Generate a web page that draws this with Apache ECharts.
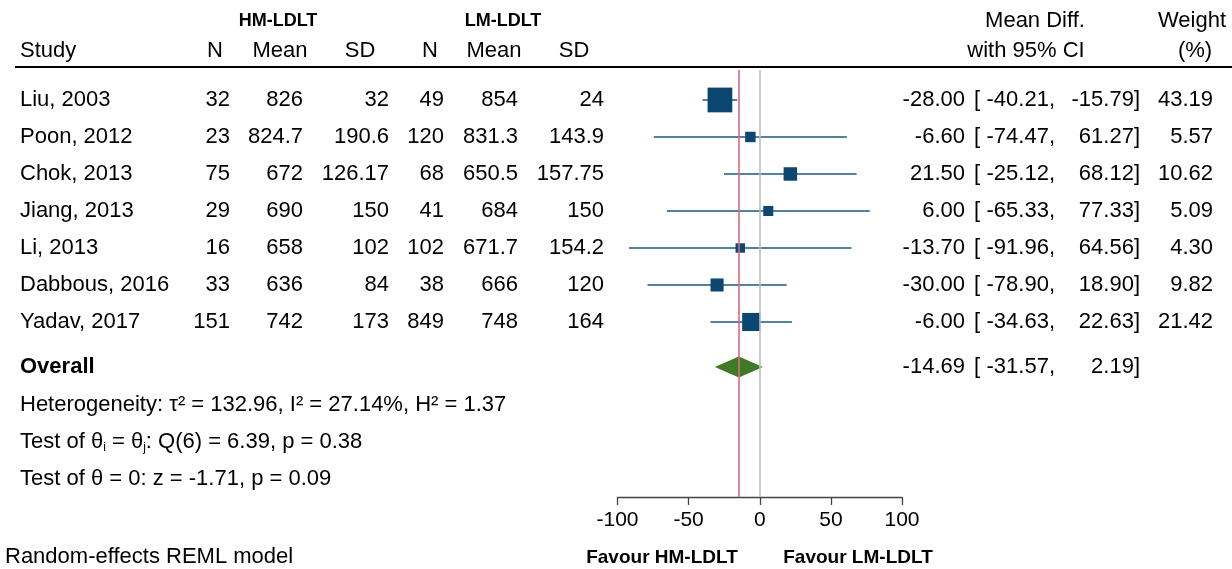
<!DOCTYPE html>
<html>
<head>
<meta charset="utf-8">
<title>Forest plot: HM-LDLT vs LM-LDLT</title>
<script src="https://cdn.jsdelivr.net/npm/echarts@6/dist/echarts.min.js"></script>
<style>
  html, body { margin: 0; padding: 0; background: #ffffff; }
  #chart { width: 1232px; height: 569px; }
</style>
</head>
<body>
<div id="chart"></div>
<script>
// ---- study data ----
const studies = ['Liu, 2003', 'Poon, 2012', 'Chok, 2013', 'Jiang, 2013', 'Li, 2013', 'Dabbous, 2016', 'Yadav, 2017'];
const hmN    = [32, 23, 75, 29, 16, 33, 151];
const hmMean = ['826', '824.7', '672', '690', '658', '636', '742'];
const hmSD   = ['32', '190.6', '126.17', '150', '102', '84', '173'];
const lmN    = [49, 120, 68, 41, 102, 38, 849];
const lmMean = ['854', '831.3', '650.5', '684', '671.7', '666', '748'];
const lmSD   = ['24', '143.9', '157.75', '150', '154.2', '120', '164'];
const meanDiff = [-28.00, -6.60, 21.50, 6.00, -13.70, -30.00, -6.00];
const ciLow    = [-40.21, -74.47, -25.12, -65.33, -91.96, -78.90, -34.63];
const ciHigh   = [-15.79, 61.27, 68.12, 77.33, 64.56, 18.90, 22.63];
const weights  = [43.19, 5.57, 10.62, 5.09, 4.30, 9.82, 21.42];

// pooled estimate (random-effects REML)
const overallMD   = -14.69;
const overallLow  = -31.57;
const overallHigh = 2.19;

const xTicks = [-100, -50, 0, 50, 100];

// ---- layout ----
const FONT = "'Liberation Sans', Arial, Helvetica, sans-serif";
const FS = 22;
const OVERALL_ROW = 7.22;
const STATS_ROWS = [8.24, 9.24, 10.24];
const COL = { study: 20, hmN: 230, hmMean: 303, hmSD: 389, lmN: 444, lmMean: 518, lmSD: 604,
              est: 965, brk: 974, low: 1055, high: 1140, wt: 1213 };
const BLUE = '#0b4770';
const CI_BLUE = '#1d5781';
const GREEN = '#3f7a24';
const RED = '#e0677f';

const fmt2 = v => v.toFixed(2);

function txt(text, x, y, align, opts) {
  opts = opts || {};
  return {
    type: 'text', x: x, y: y, silent: true,
    style: {
      text: text, fill: '#000',
      font: (opts.bold ? 'bold ' : '') + (opts.size || FS) + 'px ' + FONT,
      textAlign: align, textVerticalAlign: 'middle'
    }
  };
}

const chart = echarts.init(document.getElementById('chart'), null, { renderer: 'canvas' });

const option = {
  animation: false,
  backgroundColor: '#ffffff',
  textStyle: { fontFamily: FONT },
  grid: { left: 617.5, right: 330, top: 70, bottom: 72 },
  xAxis: {
    type: 'value', min: xTicks[0], max: xTicks[xTicks.length - 1], interval: 50,
    axisLine: { show: true, onZero: false, lineStyle: { color: '#444', width: 1.3 } },
    axisTick: { show: true, length: 8, lineStyle: { color: '#444', width: 1.3 } },
    axisLabel: { fontSize: 21, color: '#000', margin: 13, fontFamily: FONT },
    splitLine: { show: false }
  },
  yAxis: { type: 'value', inverse: true, min: -0.81, max: 10.73, show: false },
  series: [
    // reference lines: no effect (0) and pooled estimate
    {
      type: 'scatter', data: [], z: 1, silent: true,
      markLine: {
        silent: true, symbol: ['none', 'none'], label: { show: false }, animation: false,
        data: [
          { xAxis: 0, lineStyle: { color: '#bdbdbd', width: 1.6, type: 'solid' } },
          { xAxis: overallMD, lineStyle: { color: RED, width: 1.6, type: 'solid' } }
        ]
      }
    },
    // study estimates: CI whiskers + weight-scaled squares
    {
      type: 'custom', z: 3, silent: true,
      data: studies.map((s, i) => [meanDiff[i], i, ciLow[i], ciHigh[i], weights[i]]),
      encode: { x: [0, 2, 3], y: 1 },
      renderItem: function (params, api) {
        const row = api.value(1);
        const p  = api.coord([api.value(0), row]);
        const pl = api.coord([api.value(2), row]);
        const ph = api.coord([api.value(3), row]);
        const s = 2.4 + 3.4 * Math.sqrt(api.value(4));
        return {
          type: 'group',
          children: [
            { type: 'line', shape: { x1: pl[0], y1: pl[1], x2: ph[0], y2: ph[1] },
              style: { stroke: CI_BLUE, lineWidth: 1.6 } },
            { type: 'rect', shape: { x: p[0] - s / 2, y: p[1] - s / 2, width: s, height: s },
              style: { fill: BLUE } }
          ]
        };
      }
    },
    // pooled diamond
    {
      type: 'custom', z: 3, silent: true,
      data: [[overallMD, OVERALL_ROW, overallLow, overallHigh]],
      encode: { x: [0, 2, 3], y: 1 },
      renderItem: function (params, api) {
        const row = api.value(1);
        const c = api.coord([api.value(0), row]);
        const l = api.coord([api.value(2), row]);
        const h = api.coord([api.value(3), row]);
        const half = 10.5;
        return {
          type: 'polygon',
          shape: { points: [[l[0], l[1]], [c[0], c[1] - half], [h[0], h[1]], [c[0], c[1] + half]] },
          style: { fill: GREEN }
        };
      }
    },
    // table text for each study row
    {
      type: 'custom', z: 4, silent: true,
      data: studies.map((s, i) => [0, i]),
      renderItem: function (params, api) {
        const i = params.dataIndex;
        const y = api.coord([0, api.value(1)])[1];
        return {
          type: 'group',
          children: [
            txt(studies[i], COL.study, y, 'left'),
            txt(String(hmN[i]), COL.hmN, y, 'right'),
            txt(hmMean[i], COL.hmMean, y, 'right'),
            txt(hmSD[i], COL.hmSD, y, 'right'),
            txt(String(lmN[i]), COL.lmN, y, 'right'),
            txt(lmMean[i], COL.lmMean, y, 'right'),
            txt(lmSD[i], COL.lmSD, y, 'right'),
            txt(fmt2(meanDiff[i]), COL.est, y, 'right'),
            txt('[', COL.brk, y, 'left'),
            txt(fmt2(ciLow[i]) + ',', COL.low, y, 'right'),
            txt(fmt2(ciHigh[i]) + ']', COL.high, y, 'right'),
            txt(fmt2(weights[i]), COL.wt, y, 'right')
          ]
        };
      }
    },
    // pooled row text
    {
      type: 'custom', z: 4, silent: true,
      data: [[0, OVERALL_ROW]],
      renderItem: function (params, api) {
        const y = api.coord([0, api.value(1)])[1];
        return {
          type: 'group',
          children: [
            txt('Overall', COL.study, y, 'left', { bold: true }),
            txt(fmt2(overallMD), COL.est, y, 'right'),
            txt('[', COL.brk, y, 'left'),
            txt(fmt2(overallLow) + ',', COL.low, y, 'right'),
            txt(fmt2(overallHigh) + ']', COL.high, y, 'right')
          ]
        };
      }
    },
    // heterogeneity and test statistics
    {
      type: 'custom', z: 4, silent: true,
      data: STATS_ROWS.map(r => [0, r]),
      renderItem: function (params, api) {
        const y = api.coord([0, api.value(1)])[1];
        const lines = [
          'Heterogeneity: τ² = 132.96, I² = 27.14%, H² = 1.37',
          'Test of θ{sub|i} = θ{sub|j}: Q(6) = 6.39, p = 0.38',
          'Test of θ = 0: z = -1.71, p = 0.09'
        ];
        return {
          type: 'text', x: COL.study, y: y, silent: true,
          style: {
            text: lines[params.dataIndex],
            fill: '#000', fontSize: FS, fontFamily: FONT,
            textAlign: 'left', textVerticalAlign: 'middle',
            textLineHeight: 24,
            rich: {
              sub: { fontSize: 12, fontFamily: FONT, fill: '#000', textVerticalAlign: 'bottom', textLineHeight: 12 }
            }
          }
        };
      }
    }
  ],
  graphic: [
    // header rule
    { type: 'line', silent: true, shape: { x1: 15, y1: 67, x2: 1232, y2: 67 },
      style: { stroke: '#000', lineWidth: 2 } },
    // group headers
    txt('HM-LDLT', 278, 21, 'center', { bold: true, size: 18 }),
    txt('LM-LDLT', 503, 21, 'center', { bold: true, size: 18 }),
    txt('Mean Diff.', 1035, 21, 'center'),
    txt('Weight', 1192, 21, 'center'),
    // column headers
    txt('Study', COL.study, 51, 'left'),
    txt('N', 215, 51, 'center'),
    txt('Mean', 280, 51, 'center'),
    txt('SD', 360, 51, 'center'),
    txt('N', 430, 51, 'center'),
    txt('Mean', 494, 51, 'center'),
    txt('SD', 574, 51, 'center'),
    txt('with 95% CI', 1026, 51, 'center'),
    txt('(%)', 1195, 51, 'center'),
    // footer
    txt('Random-effects REML model', 5, 557, 'left'),
    txt('Favour HM-LDLT', 662, 558, 'center', { bold: true, size: 19 }),
    txt('Favour LM-LDLT', 858, 558, 'center', { bold: true, size: 19 })
  ]
};

chart.setOption(option);
</script>
</body>
</html>
